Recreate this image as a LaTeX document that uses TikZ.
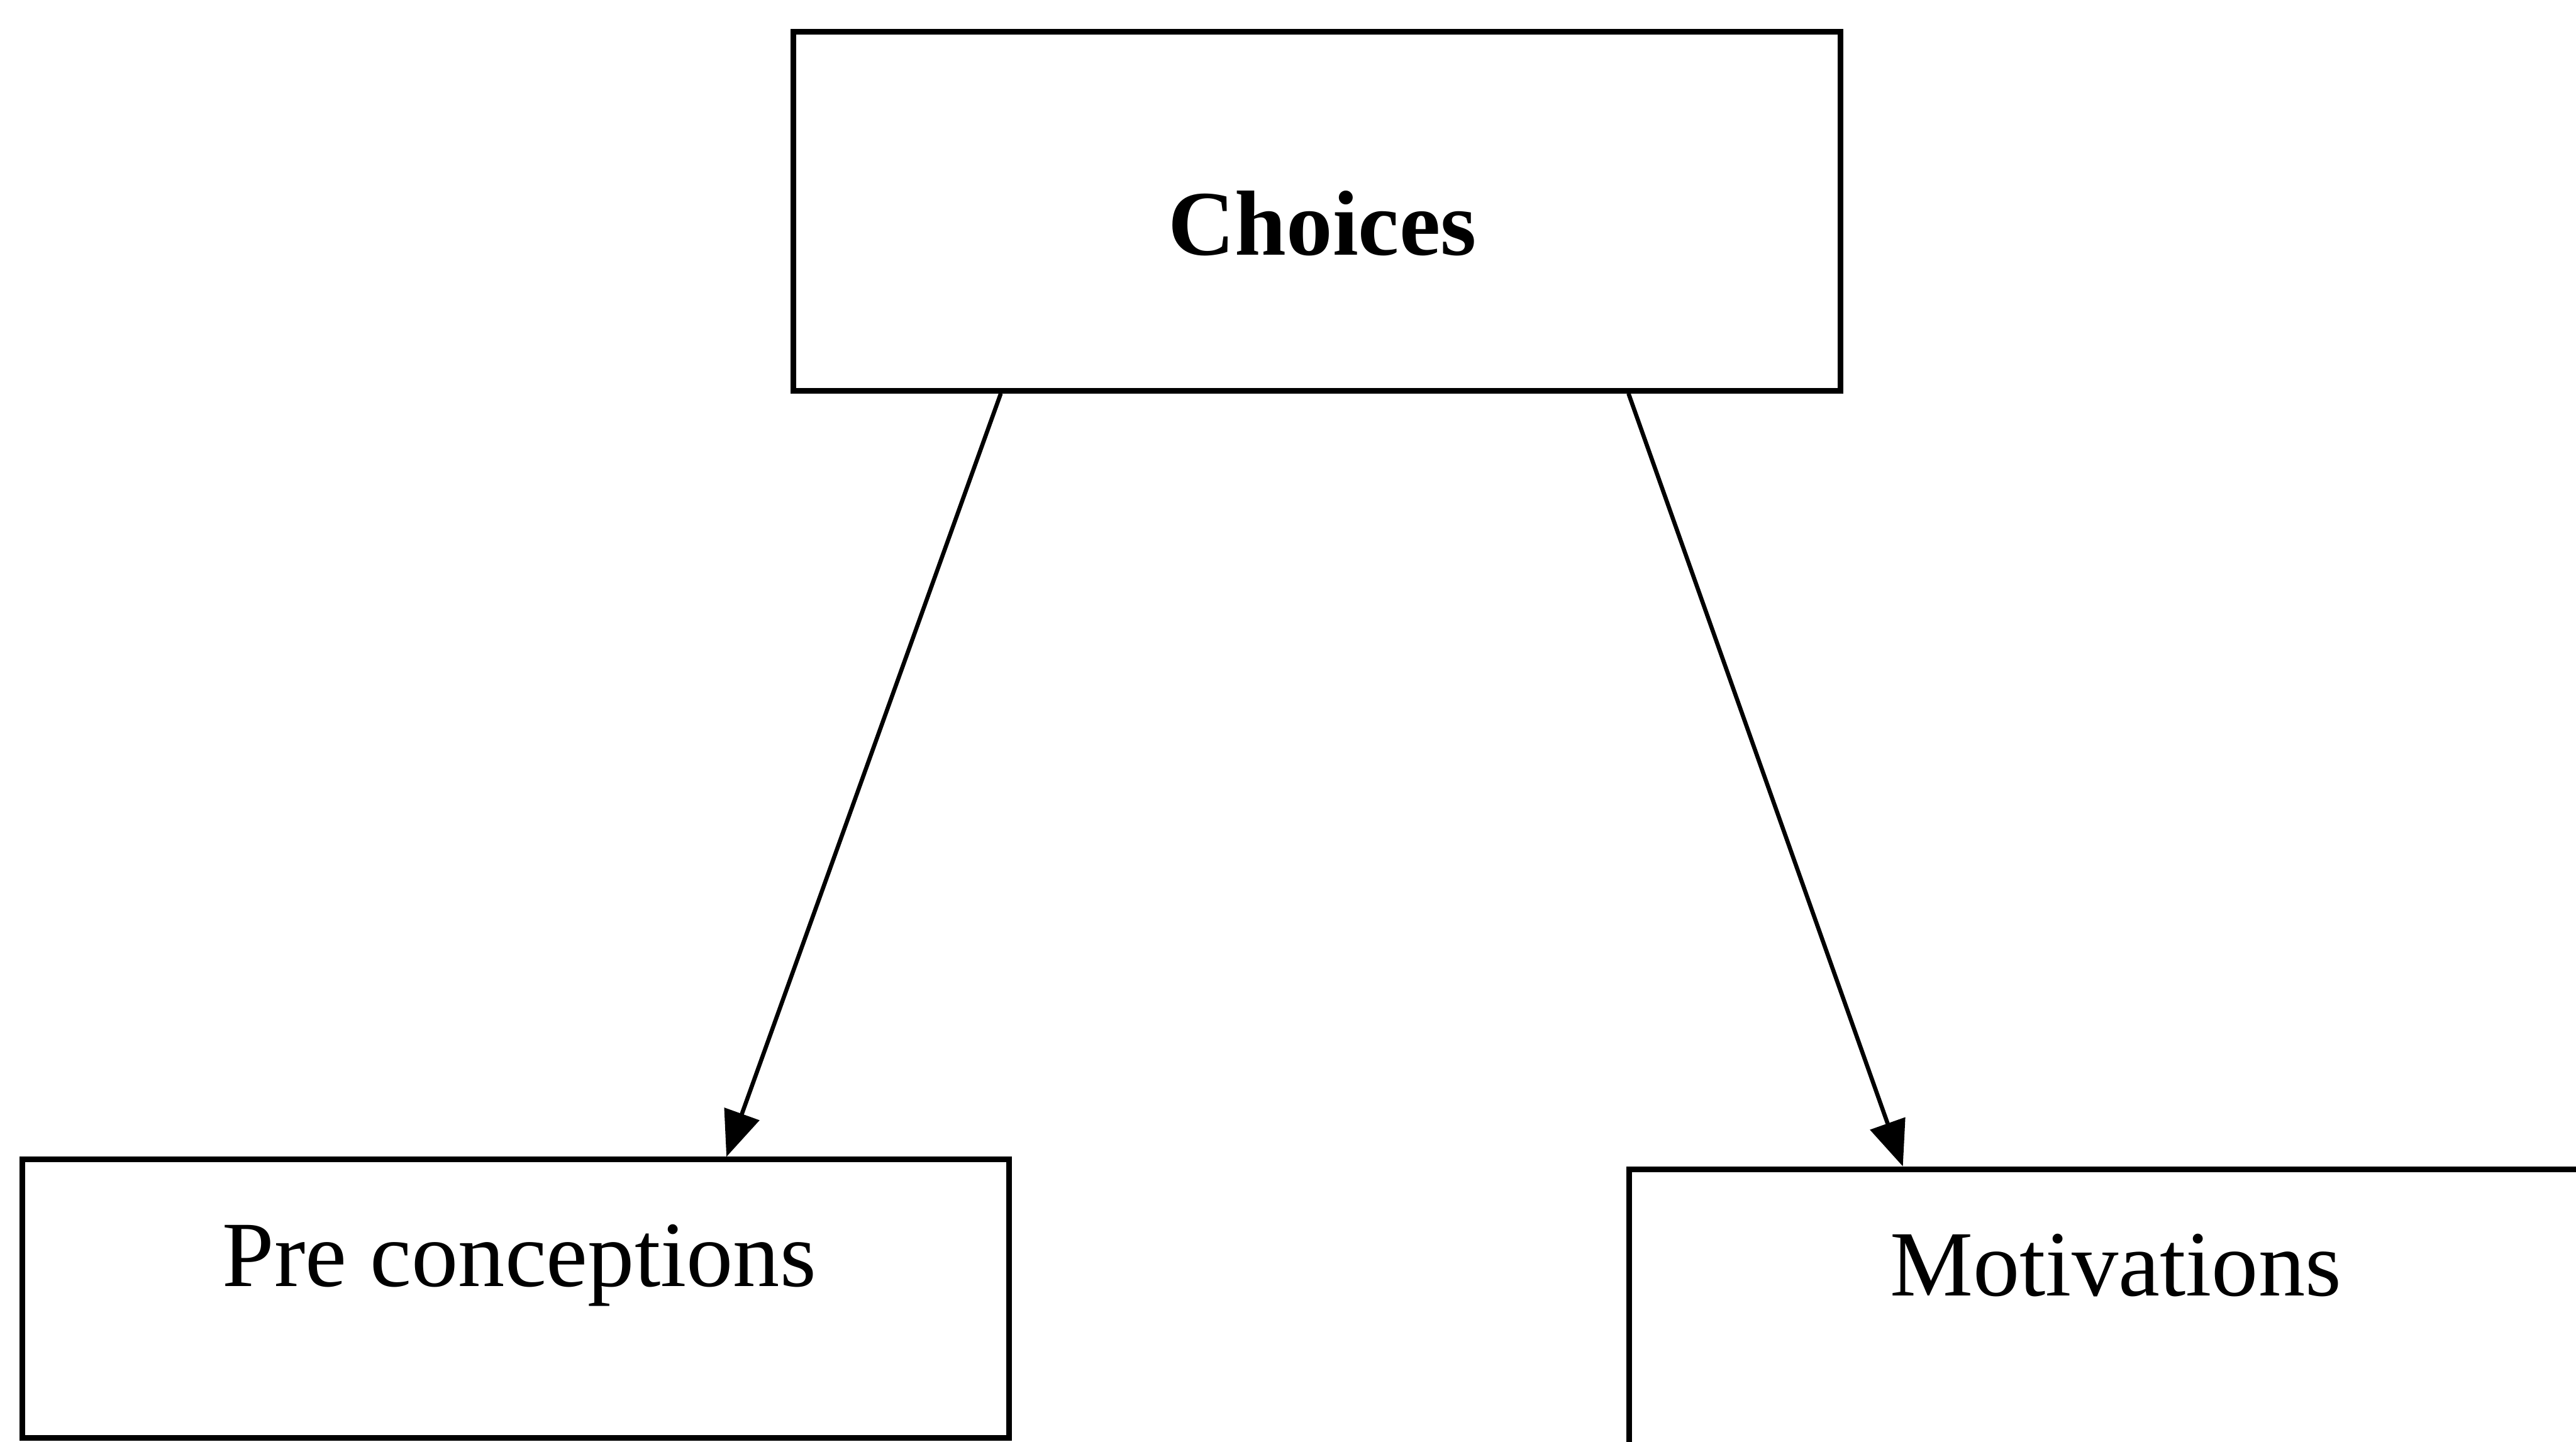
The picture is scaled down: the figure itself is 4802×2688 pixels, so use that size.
\documentclass[tikz,border=0pt]{standalone}
\usepackage{fontspec}
\setmainfont{Liberation Serif}
\usetikzlibrary{arrows.meta,calc}
\begin{document}
\begin{tikzpicture}[x=0.01cm,y=0.01cm,
  box/.style={draw=black,line width=3pt,rectangle,inner sep=0pt},
  lbl/.style={inner sep=0pt,anchor=base,font=\fontsize{49.5}{59}\selectfont},
  arr/.style={line width=2.2pt,-{Triangle[length=0.85cm,width=0.68cm]}}]
\useasboundingbox (0,0) rectangle (4802,2688);
\clip (0,0) rectangle (4802,2688);
\fill[white] (0,0) rectangle (4802,2688);
\node[box,minimum width=19.51cm,minimum height=6.68cm] (choices) at (2455,2294) {};
\node[box,minimum width=18.38cm,minimum height=5.18cm] (pre) at (961,267) {};
\node[box,minimum width=18.62cm,minimum height=6.2cm] (motiv) at (3969,198) {};
\node[lbl,font=\fontsize{49}{59}\selectfont\bfseries] (choicestext) at (2465,2213) {Choices};
\node[lbl] (pretext) at (968,290) {Pre conceptions};
\node[lbl] (motivtext) at (3944,272) {Motivations};
\draw[arr] ($(choices.south west)+(392,0)$) -- ($(pre.north west)+(1318,0)$);
\draw[arr] ($(choices.south west)+(1562,0)$) -- ($(motiv.north west)+(515,0)$);
\end{tikzpicture}
\end{document}
